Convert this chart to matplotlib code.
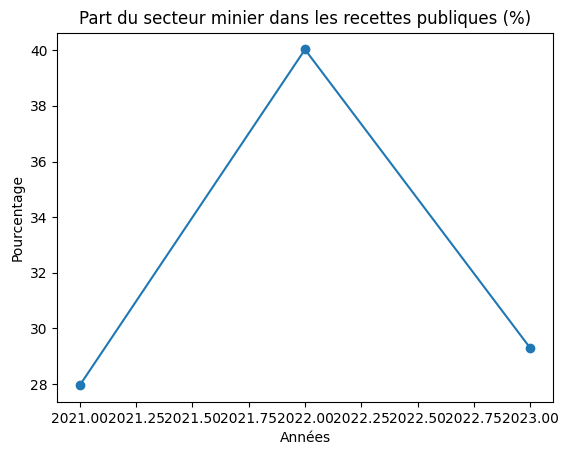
import matplotlib
matplotlib.use("Agg")
import matplotlib.pyplot as plt

# --- Data ---
annees = [2021, 2022, 2023]
part_minier = [27.96, 40.03, 29.30]

# --- Figure ---
fig, ax = plt.subplots(figsize=(5.68, 4.55), dpi=100)
fig.subplots_adjust(left=0.1009, right=0.973, bottom=0.1165, top=0.9281)

ax.plot(annees, part_minier, marker='o')
ax.set_title("Part du secteur minier dans les recettes publiques (%)")
ax.set_xlabel("Années")
ax.set_ylabel("Pourcentage")

fig.savefig("out.png", dpi=100)
